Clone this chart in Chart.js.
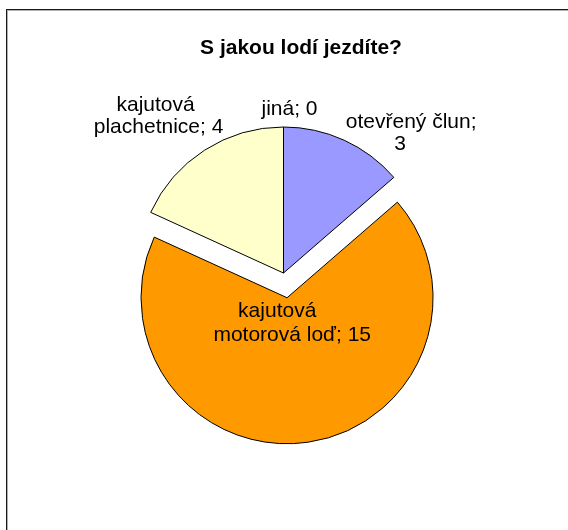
<!DOCTYPE html>
<html>
<head>
<meta charset="utf-8">
<title>S jakou lodí jezdíte?</title>
<script src="https://cdn.jsdelivr.net/npm/chart.js@4.4.1/dist/chart.umd.min.js"></script>
<style>
  html, body { margin: 0; padding: 0; background: #fff; overflow: hidden; }
  #wrap { position: relative; width: 568px; height: 530px; }
  #frame {
    position: absolute; left: 6px; top: 9px; width: 700px; height: 700px;
    border-left: 1px solid #1a1a1a; border-top: 1px solid #1a1a1a;
    box-shadow: inset 1px 1px 0 #b0b0b0;
  }
  #chart { position: absolute; left: 0; top: 0; }
</style>
</head>
<body>
<div id="wrap">
  <div id="frame"></div>
  <canvas id="chart" width="568" height="530"></canvas>
</div>
<script>
// data
const chartTitle = 'S jakou lodí jezdíte?';
const categories = ['otevřený člun', 'kajutová motorová loď', 'kajutová plachetnice', 'jiná'];
const values = [3, 15, 4, 0];
const colors = ['#9999FF', '#FF9900', '#FFFFCC', '#FFFFFF'];
const explode = [0, 25, 0, 0];

// label lines as shown in the picture (wrapped like Excel did)
const labelLines = [
  ['otevřený člun;', '3'],
  ['kajutová', 'motorová loď; 15'],
  ['kajutová', 'plachetnice; 4'],
  ['jiná; 0']
];
// where the label sits: fraction of the radius along the slice middle, then line offsets
const labelRadius = [1, 0.2, 1, 1];
const labelShift = [
  [[67, -12], [56, 10]],
  [[-14, -10], [1, 14]],
  [[-49, -39], [-46, -17]],
  [[6, -12]]
];

const FONT = '"Liberation Sans", Arial, Helvetica, sans-serif';

// pulls slices out of the pie without the radius growth of chart.js' own offset
const explodePlugin = {
  id: 'explode',
  afterUpdate(chart) {
    chart.getDatasetMeta(0).data.forEach((arc, i) => {
      if (!explode[i]) return;
      const mid = (arc.startAngle + arc.endAngle) / 2;
      arc.x += Math.cos(mid) * explode[i];
      arc.y += Math.sin(mid) * explode[i];
    });
  }
};

// draws the title and the data labels
const labelPlugin = {
  id: 'pieLabels',
  afterDraw(chart) {
    const ctx = chart.ctx;
    ctx.save();
    ctx.fillStyle = '#000';
    ctx.textAlign = 'center';
    ctx.textBaseline = 'alphabetic';

    ctx.font = 'bold 21px ' + FONT;
    ctx.fillText(chartTitle, 301, 54);

    ctx.font = '21px ' + FONT;
    const arcs = chart.getDatasetMeta(0).data;
    arcs.forEach((arc, i) => {
      const p = arc.getProps(['x', 'y', 'startAngle', 'endAngle', 'outerRadius']);
      const mid = (p.startAngle + p.endAngle) / 2;
      const d = p.outerRadius * labelRadius[i];
      const ax = p.x + Math.cos(mid) * d;
      const ay = p.y + Math.sin(mid) * d;
      labelLines[i].forEach((line, j) => {
        const s = labelShift[i][j];
        ctx.fillText(line, ax + s[0], ay + s[1]);
      });
    });
    ctx.restore();
  }
};

new Chart(document.getElementById('chart'), {
  type: 'pie',
  data: {
    labels: categories,
    datasets: [{
      data: values,
      backgroundColor: colors,
      borderColor: '#000',
      borderWidth: 1,
      hoverOffset: 0
    }]
  },
  options: {
    responsive: false,
    animation: false,
    events: [],
    radius: 146,
    layout: { padding: { left: 0, right: 1, top: 16, bottom: 0 } },
    plugins: {
      legend: { display: false },
      title: { display: false },
      tooltip: { enabled: false }
    }
  },
  plugins: [explodePlugin, labelPlugin]
});
</script>
</body>
</html>
